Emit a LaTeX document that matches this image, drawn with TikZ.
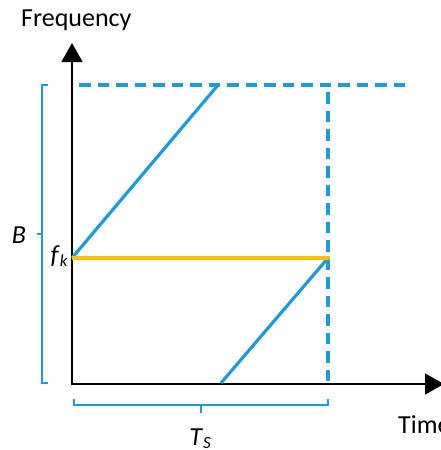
\documentclass[tikz,border=0pt]{standalone}
\usepackage{fontspec}
\setmainfont{Carlito}
\usetikzlibrary{arrows.meta}
\definecolor{chirpblue}{HTML}{1E9BD7}
\definecolor{chirpgold}{HTML}{FFC000}
\newcommand{\sub}[1]{\raisebox{-0.3ex}{\fontsize{17}{17}\selectfont\textit{#1}}}

\begin{document}
\begin{tikzpicture}[x=1pt, y=-1pt, font=\fontsize{26}{30}\selectfont,
  axis/.style={line width=1.8pt, -{Triangle[length=19pt,width=21pt]}},
  chirp/.style={draw=chirpblue, line width=3.2pt},
  bound/.style={draw=chirpblue, line width=3.4pt, dash pattern=on 11.5pt off 7pt},
  brk/.style={draw=chirpblue, line width=1.6pt},
  lbl/.style={inner sep=0pt}]
\useasboundingbox (0,0) rectangle (441,450);
\clip (0,0) rectangle (441,450);
% axes
\coordinate (o) at (72,384);
\coordinate (ytop) at (72,43);
\coordinate (xend) at (444,384);
\draw[axis] (o) -- (ytop);
\draw[axis] ([xshift=-0.9pt]o) -- (xend);
\node[lbl, anchor=base west] (freq) at (21,26) {Frequency};
\node[lbl, anchor=base west] (time) at (398,433) {Time};
% band limits
\coordinate (tl) at (79,85);
\coordinate (tr) at (405,85);
\coordinate (ts) at (328,92);
\coordinate (tsb) at (328,383);
\draw[bound] (tl) -- (tr);
\draw[bound] (ts) -- (tsb);
% chirp
\coordinate (fk) at (72,258);
\coordinate (top) at (218,85);
\coordinate (bot) at (221,383);
\coordinate (ke) at (328,258);
\draw[chirp] (fk) -- (top);
\draw[chirp] (bot) -- (ke);
\draw[draw=chirpgold, line width=3.6pt] (fk) -- ([xshift=2pt]ke);
\node[lbl, anchor=base east] (fklab) at (68,263) {\textit{f}\sub{k}};
% bandwidth bracket
\draw[brk] (48,85) -- (42,85) -- (42,383) -- (48,383);
\draw[brk] (42,234) -- (37,234);
\node[lbl] (blab) at (19,235) {\textit{B}};
% symbol time bracket
\draw[brk] (74,399) -- (74,405) -- (328,405) -- (328,399);
\draw[brk] (201,405) -- (201,413);
\node[lbl, anchor=base] (tslab) at (200,445) {\textit{T}\sub{S}};
\end{tikzpicture}
\end{document}
